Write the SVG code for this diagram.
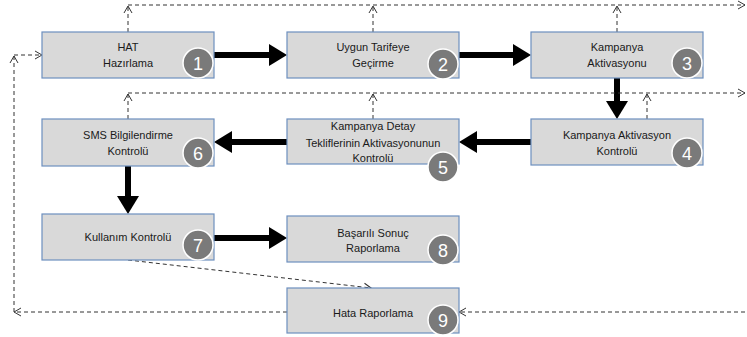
<svg xmlns="http://www.w3.org/2000/svg" width="747" height="337" viewBox="0 0 747 337">
<style>
.box{fill:#d9d9d9;stroke:#6d8fbf;stroke-width:1.2}
.t{font-family:"Liberation Sans",Arial,sans-serif;font-size:11px;fill:#1a1a1a;text-anchor:middle}
.c{fill:#7a7a7a;stroke:#ffffff;stroke-width:1.5}
.n{font-family:"Liberation Sans",Arial,sans-serif;font-size:18px;fill:#ffffff;text-anchor:middle}
.thick{stroke:#000;stroke-width:6;fill:none}
.dash{stroke:#333;stroke-width:1;stroke-dasharray:4,3;fill:none}
</style>
<defs>
<marker id="big" markerUnits="userSpaceOnUse" markerWidth="18" markerHeight="22" viewBox="0 0 18 22" refX="1" refY="11" orient="auto">
<path d="M0,0 L18,11 L0,22 z" fill="#000"/>
</marker>
<marker id="open" markerUnits="userSpaceOnUse" markerWidth="9" markerHeight="10" viewBox="0 0 9 10" refX="8" refY="5" orient="auto">
<path d="M1,1 L8,5 L1,9" fill="none" stroke="#333" stroke-width="1"/>
</marker>
</defs>
<g id="connectors">
<line class="thick" x1="214" y1="55" x2="270" y2="55" marker-end="url(#big)"/>
<line class="thick" x1="459" y1="55" x2="514" y2="55" marker-end="url(#big)"/>
<line class="thick" x1="617" y1="78" x2="617" y2="102" marker-end="url(#big)"/>
<line class="thick" x1="531" y1="142" x2="476" y2="142" marker-end="url(#big)"/>
<line class="thick" x1="287" y1="142" x2="231" y2="142" marker-end="url(#big)"/>
<line class="thick" x1="128" y1="166" x2="128" y2="197" marker-end="url(#big)"/>
<line class="thick" x1="214" y1="238" x2="270" y2="238" marker-end="url(#big)"/>
<line class="dash" x1="128" y1="5" x2="745" y2="5" marker-end="url(#open)"/>
<line class="dash" x1="128" y1="32" x2="128" y2="6" marker-end="url(#open)"/>
<line class="dash" x1="373" y1="32" x2="373" y2="6" marker-end="url(#open)"/>
<line class="dash" x1="617" y1="32" x2="617" y2="6" marker-end="url(#open)"/>
<line class="dash" x1="128" y1="93" x2="745" y2="93" marker-end="url(#open)"/>
<line class="dash" x1="128" y1="119" x2="128" y2="94" marker-end="url(#open)"/>
<line class="dash" x1="373" y1="119" x2="373" y2="94" marker-end="url(#open)"/>
<line class="dash" x1="647" y1="119" x2="647" y2="94" marker-end="url(#open)"/>
<line class="dash" x1="14" y1="312" x2="14" y2="56" marker-end="url(#open)"/>
<line class="dash" x1="14" y1="55" x2="42" y2="55" marker-end="url(#open)"/>
<line class="dash" x1="287" y1="312" x2="14" y2="312" marker-end="url(#open)"/>
<line class="dash" x1="745" y1="312" x2="459" y2="312" marker-end="url(#open)"/>
<line class="dash" x1="128" y1="260" x2="371" y2="288" marker-end="url(#open)"/>
</g>
<g id="node1">
<rect class="box" x="42" y="32" width="172" height="46"/>
<text class="t" x="128" y="51">HAT</text>
<text class="t" x="128" y="67">Hazırlama</text>
<circle class="c" cx="198" cy="63" r="15"/>
<text class="n" x="198" y="69.5">1</text>
</g>
<g id="node2">
<rect class="box" x="287" y="32" width="172" height="46"/>
<text class="t" x="373" y="51">Uygun Tarifeye</text>
<text class="t" x="373" y="67">Geçirme</text>
<circle class="c" cx="443" cy="64" r="15"/>
<text class="n" x="443" y="70.5">2</text>
</g>
<g id="node3">
<rect class="box" x="531" y="32" width="172" height="46"/>
<text class="t" x="617" y="51">Kampanya</text>
<text class="t" x="617" y="67">Aktivasyonu</text>
<circle class="c" cx="687" cy="63" r="15"/>
<text class="n" x="687" y="69.5">3</text>
</g>
<g id="node4">
<rect class="box" x="531" y="119" width="172" height="46"/>
<text class="t" x="617" y="139">Kampanya Aktivasyon</text>
<text class="t" x="617" y="155">Kontrolü</text>
<circle class="c" cx="687" cy="153" r="15"/>
<text class="n" x="687" y="159.5">4</text>
</g>
<g id="node5">
<rect class="box" x="287" y="119" width="172" height="45"/>
<text class="t" x="373" y="130">Kampanya Detay</text>
<text class="t" x="373" y="147">Tekliflerinin Aktivasyonunun</text>
<text class="t" x="373" y="162">Kontrolü</text>
<circle class="c" cx="443" cy="167" r="15"/>
<text class="n" x="443" y="173.5">5</text>
</g>
<g id="node6">
<rect class="box" x="42" y="119" width="172" height="47"/>
<text class="t" x="128" y="139">SMS Bilgilendirme</text>
<text class="t" x="128" y="155">Kontrolü</text>
<circle class="c" cx="198" cy="153" r="15"/>
<text class="n" x="198" y="159.5">6</text>
</g>
<g id="node7">
<rect class="box" x="42" y="214" width="172" height="46"/>
<text class="t" x="128" y="241">Kullanım Kontrolü</text>
<circle class="c" cx="198" cy="245" r="15"/>
<text class="n" x="198" y="251.5">7</text>
</g>
<g id="node8">
<rect class="box" x="287" y="216" width="172" height="46"/>
<text class="t" x="373" y="237">Başarılı Sonuç</text>
<text class="t" x="373" y="252">Raporlama</text>
<circle class="c" cx="443" cy="250" r="15"/>
<text class="n" x="443" y="256.5">8</text>
</g>
<g id="node9">
<rect class="box" x="287" y="288" width="172" height="45"/>
<text class="t" x="373" y="317">Hata Raporlama</text>
<circle class="c" cx="443" cy="320" r="15"/>
<text class="n" x="443" y="326.5">9</text>
</g>
</svg>
